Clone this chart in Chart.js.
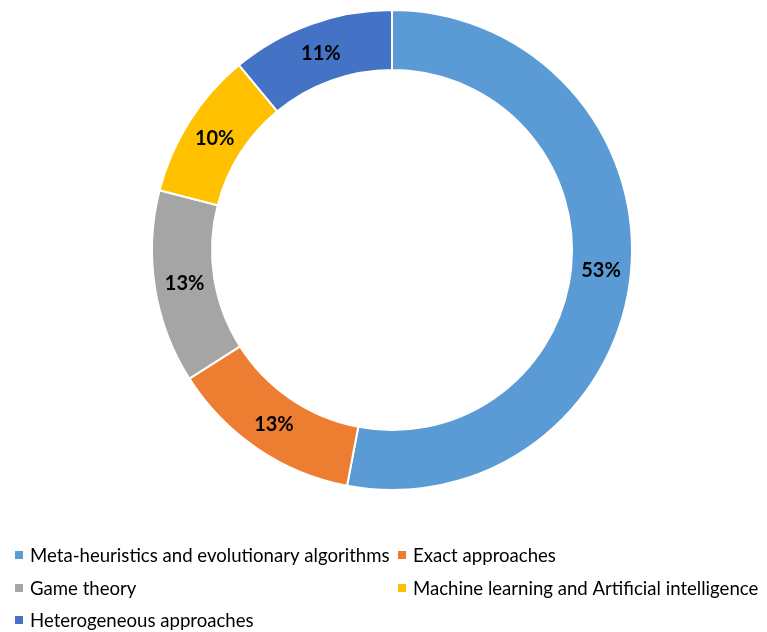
<!DOCTYPE html>
<html>
<head>
<meta charset="utf-8">
<script src="https://cdn.jsdelivr.net/npm/chart.js@4.4.0/dist/chart.umd.min.js"></script>
<style>
  html, body { margin: 0; padding: 0; background: #fff; }
  #wrap { width: 767px; height: 632px; }
</style>
</head>
<body>
<div id="wrap"><canvas id="donut"></canvas></div>
<script>
const categories = [
  'Meta-heuristics and evolutionary algorithms',
  'Exact approaches',
  'Game theory',
  'Machine learning and Artificial intelligence',
  'Heterogeneous approaches'
];
const shares = [53, 13, 13, 10, 11];
const colors = ['#5B9BD5', '#ED7D31', '#A5A5A5', '#FFC000', '#4472C4'];

// percent labels in the middle of each ring segment
const sliceLabels = {
  id: 'sliceLabels',
  afterDatasetsDraw(chart) {
    const ctx = chart.ctx;
    const meta = chart.getDatasetMeta(0);
    const total = shares.reduce((a, b) => a + b, 0);
    ctx.save();
    ctx.font = 'bold 20px Lato';
    ctx.fillStyle = '#000';
    ctx.textAlign = 'center';
    ctx.textBaseline = 'middle';
    meta.data.forEach((arc, i) => {
      const p = arc.tooltipPosition();
      ctx.fillText(Math.round(shares[i] / total * 100) + '%', p.x, p.y + 1);
    });
    ctx.restore();
  }
};

// Excel-style grid legend under the chart
const gridLegend = {
  id: 'gridLegend',
  afterDraw(chart) {
    const ctx = chart.ctx;
    const colX = [15, 398];
    const rowY = [555, 588, 620];
    ctx.save();
    ctx.font = '18.6px Lato';
    ctx.textBaseline = 'middle';
    categories.forEach((name, i) => {
      const x = colX[i % 2];
      const y = rowY[Math.floor(i / 2)];
      ctx.fillStyle = colors[i];
      ctx.fillRect(x, y - 4, 8, 8);
      ctx.fillStyle = '#000';
      ctx.fillText(name, x + 15, y + 1);
    });
    ctx.restore();
  }
};

const chart = new Chart(document.getElementById('donut'), {
  type: 'doughnut',
  data: {
    labels: categories,
    datasets: [{
      data: shares,
      backgroundColor: colors,
      borderColor: '#fff',
      borderWidth: 2
    }]
  },
  plugins: [sliceLabels, gridLegend],
  options: {
    responsive: true,
    maintainAspectRatio: false,
    animation: false,
    cutout: '75%',
    layout: { padding: { top: 9, bottom: 141, left: 17, right: 0 } },
    plugins: {
      legend: { display: false },
      tooltip: { enabled: false }
    }
  }
});
</script>
</body>
</html>
